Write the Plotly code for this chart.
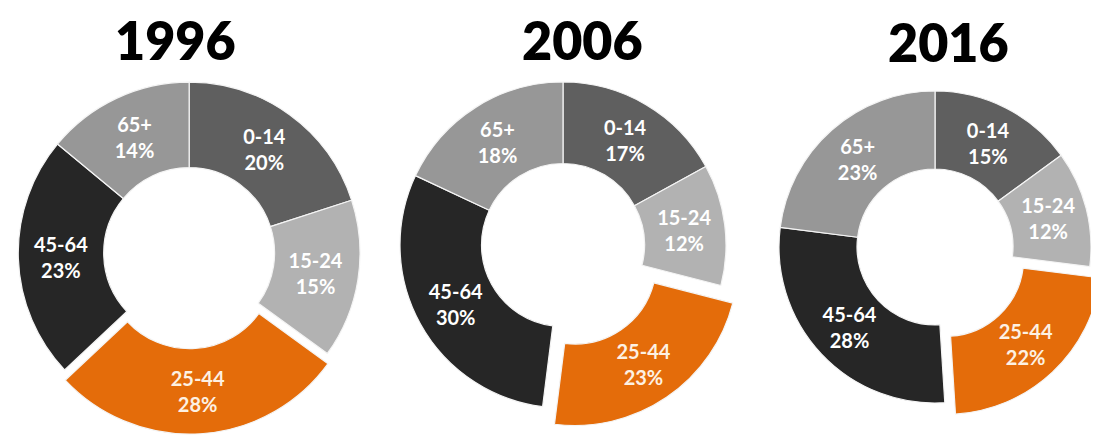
import plotly.graph_objects as go

# ---- data ----
age_groups = ["0-14", "15-24", "25-44", "45-64", "65+"]
years = ["1996", "2006", "2016"]
share_1996 = [20, 15, 28, 23, 14]
share_2006 = [17, 12, 23, 30, 18]
share_2016 = [15, 12, 22, 28, 23]
shares = [share_1996, share_2006, share_2016]

colors = ["#5f5f5f", "#b2b2b2", "#e46c0a", "#262626", "#979797"]
text_colors = ["#ffffff", "#ffffff", "#fdf1e3", "#ffffff", "#ffffff"]

W, H = 1099, 436
OFF = 8  # page offset of the figure inside the browser window
# layout: (center x px, center y px from top, radius px, pull) in window coords
geo = [(189, 253, 171, 0.06), (563, 245, 163, 0.13), (935, 247, 156, 0.10)]
title_pos = [(175, 40), (582, 40), (948, 42)]

fig = go.Figure()
for vals, (cx, cy, r, p) in zip(shares, geo):
    cx -= OFF
    cy -= OFF
    half = r * (1 + p)
    fig.add_trace(go.Pie(
        labels=age_groups,
        values=vals,
        sort=False,
        direction="clockwise",
        rotation=0,
        hole=0.5,
        pull=[0, 0, p, 0, 0],
        marker=dict(colors=colors, line=dict(color="#f4f4f4", width=1.2)),
        texttemplate="%{label}<br>%{value}%",
        textposition="inside",
        insidetextorientation="horizontal",
        textfont=dict(family="Lato", size=20, color=text_colors, weight="bold"),
        hoverinfo="label+value",
        showlegend=False,
        domain=dict(x=[max(0, (cx - half) / W), min(1, (cx + half) / W)],
                    y=[max(0, 1 - (cy + half) / H), min(1, 1 - (cy - half) / H)]),
    ))

for yr, (tx, ty) in zip(years, title_pos):
    fig.add_annotation(text=yr, x=(tx - OFF) / W, y=1 - (ty - OFF) / H,
                       xref="paper", yref="paper",
                       showarrow=False, xanchor="center", yanchor="middle",
                       font=dict(family="Lato", size=52, color="#000000", weight=800))

fig.update_layout(
    width=W, height=H,
    margin=dict(l=0, r=0, t=0, b=0),
    paper_bgcolor="white", plot_bgcolor="white",
    uniformtext=dict(minsize=20, mode="show"),
)

fig.write_html("out.html")
